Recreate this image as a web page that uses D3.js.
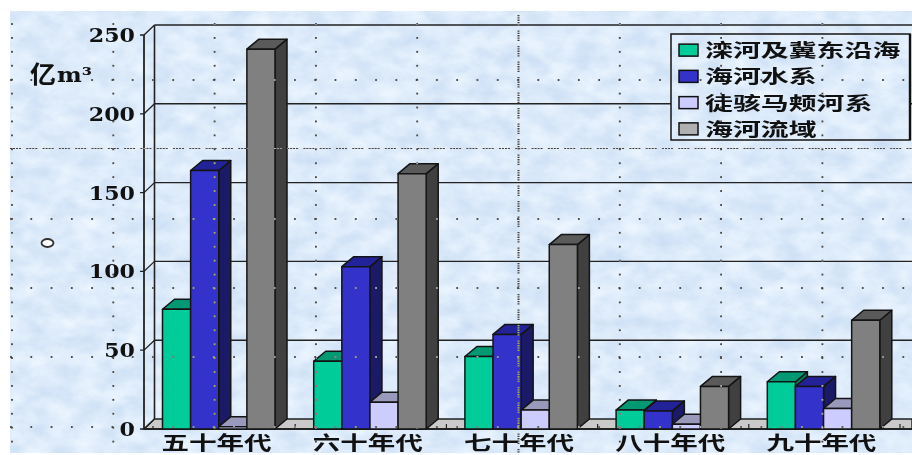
<!DOCTYPE html>
<html>
<head>
<meta charset="utf-8">
<script src="https://cdn.jsdelivr.net/npm/d3@7/dist/d3.min.js"></script>
<style>
html,body{margin:0;padding:0;background:#fff;overflow:hidden}
svg{display:block}
</style>
</head>
<body>
<svg id="chart" width="912" height="455"></svg>
<script>
// 海河流域各年代水资源量(亿m³)
const decades = ["五十年代", "六十年代", "七十年代", "八十年代", "九十年代"];
const seriesNames = ["滦河及冀东沿海", "海河水系", "徒骇马颊河系", "海河流域"];
const luanhe = [76, 43, 46, 12, 30];
const haihe = [164, 103, 60, 11.5, 27];
const tuhai = [1.5, 17, 12, 3, 13];
const basin = [241, 162, 117, 27, 69];
const yTicks = [0, 50, 100, 150, 200, 250];
const unitLabel = "亿";
const unitSuffix = "m³";

const frontColors = ["#00cc99", "#3333cc", "#ccccff", "#808080"];
const topColors = ["#009973", "#222299", "#9999bb", "#5a5a5a"];
const sideColors = ["#007a5c", "#1a1a66", "#77779a", "#404040"];
const swatchColors = ["#00cc99", "#3333cc", "#ccccff", "#b0b0b0"];

const columns = [luanhe, haihe, tuhai, basin];
const svg = d3.select("#chart");
const dx = 10.5, dy = 10;               // oblique depth of the 3D box
const barDx = 12;                       // oblique depth of each column
const W = 912, H = 455;
const plotLeft = 144, plotRight = 900, plotBase = 429, plotTop = 35;

const x = d3.scaleBand().domain(decades).range([plotLeft, plotRight]);
const inner = d3.scaleBand().domain(seriesNames).range([18.5, 131]);
const y = d3.scaleLinear().domain([0, 250]).range([plotBase, plotTop]);

// mottled paper backdrop
const defs = svg.append("defs");
const f = defs.append("filter").attr("id", "paper")
  .attr("filterUnits", "userSpaceOnUse")
  .attr("x", 0).attr("y", 0).attr("width", W).attr("height", H)
  .attr("color-interpolation-filters", "sRGB");
f.append("feTurbulence").attr("type", "fractalNoise")
  .attr("baseFrequency", "0.04 0.06").attr("numOctaves", 5).attr("seed", 7);
f.append("feColorMatrix").attr("type", "matrix").attr("values",
  "0.17 0 0 0 0.78  0.12 0 0 0 0.86  0.05 0 0 0 0.955  0 0 0 0 1");
defs.append("clipPath").attr("id", "legendClip").append("rect")
  .attr("x", 671).attr("y", 34).attr("width", 239).attr("height", 106);
defs.append("clipPath").attr("id", "paperClip").append("rect")
  .attr("x", 10).attr("y", 11).attr("width", W - 10).attr("height", H - 13);

const drawPaper = g => g.append("g").attr("clip-path", "url(#paperClip)")
  .append("rect")
  .attr("x", 0).attr("y", 0).attr("width", W).attr("height", H)
  .attr("filter", "url(#paper)");
drawPaper(svg.append("g"));

// back wall, floor and gridlines
const wall = svg.append("g").attr("fill", "none").attr("stroke", "#222");
wall.selectAll("line.grid").data(yTicks.slice(1)).join("line")
  .attr("class", "grid")
  .attr("x1", plotLeft + dx).attr("x2", W)
  .attr("y1", d => y(d) - dy).attr("y2", d => y(d) - dy)
  .attr("stroke-width", 1.4);
wall.append("path")
  .attr("d", `M${plotLeft},${plotBase}L${plotLeft + dx},${plotBase - dy}H${W}V${plotBase}Z`)
  .attr("fill", "#cacaca").attr("stroke-width", 1.4);
wall.selectAll("line.floorTick").data(d3.range(1, 6)).join("line")
  .attr("class", "floorTick")
  .attr("x1", i => plotLeft + i * x.step()).attr("x2", i => plotLeft + i * x.step())
  .attr("y1", plotBase - 5).attr("y2", plotBase)
  .attr("stroke-width", 1.2);
wall.append("line").attr("x1", plotLeft + dx).attr("x2", plotLeft + dx)
  .attr("y1", y(250) - dy).attr("y2", plotBase - dy).attr("stroke-width", 1.6);
wall.append("line").attr("x1", plotLeft).attr("x2", plotLeft)
  .attr("y1", y(250)).attr("y2", plotBase).attr("stroke-width", 1.8);
wall.selectAll("path.tick3d").data(yTicks).join("path")
  .attr("class", "tick3d")
  .attr("d", d => `M${plotLeft - 4},${y(d)}H${plotLeft}L${plotLeft + dx},${y(d) - dy}`)
  .attr("stroke-width", 1.3);
wall.append("line").attr("x1", plotLeft).attr("x2", W)
  .attr("y1", plotBase).attr("y2", plotBase).attr("stroke-width", 2);

// legend panel masks the gridline running behind it
drawPaper(svg.append("g").attr("clip-path", "url(#legendClip)"));

// 3D columns, painted left to right so nearer faces overlap
const barW = inner.bandwidth();
const groups = svg.append("g").selectAll("g").data(decades).join("g")
  .attr("transform", d => `translate(${x(d)},0)`);
groups.each(function (dec, di) {
  const g = d3.select(this);
  seriesNames.forEach((name, si) => {
    const value = columns[si][di];
    const x0 = inner(name), x1 = x0 + barW, yt = y(value);
    const b = g.append("g").attr("stroke", "#141414").attr("stroke-width", 1.5)
      .attr("stroke-linejoin", "round");
    b.append("path").attr("fill", sideColors[si])
      .attr("d", `M${x1},${yt}L${x1 + barDx},${yt - dy}V${plotBase - dy}L${x1},${plotBase}Z`);
    b.append("path").attr("fill", topColors[si])
      .attr("d", `M${x0},${yt}L${x0 + barDx},${yt - dy}H${x1 + barDx}L${x1},${yt}Z`);
    b.append("rect").attr("fill", frontColors[si])
      .attr("x", x0).attr("y", yt).attr("width", barW).attr("height", plotBase - yt);
  });
});

// scattered dot lattice, inverted against whatever lies beneath it
const dots = svg.append("g").attr("fill", "#fff").attr("opacity", 0.8)
  .style("mix-blend-mode", "difference");
const colXs = d3.range(0, 9).map(i => 12 + i * 101.3);
const rowYs = [80, 219, 288, 357, 427];
const dotYs = d3.range(0, 31).map(i => 24 + i * 13.92);
const dotSize = 1.8;
colXs.forEach(cx => {
  if (Math.abs(cx - 518.5) < 2) return;
  dots.append("g").selectAll("rect").data(dotYs).join("rect")
    .attr("x", cx - dotSize / 2).attr("y", d => d - dotSize / 2)
    .attr("width", dotSize).attr("height", dotSize);
});
rowYs.forEach(ry => {
  dots.append("g").selectAll("rect").data(d3.range(0, 45).map(i => 11 + i * 20.28)).join("rect")
    .attr("x", d => d - dotSize / 2).attr("y", ry - dotSize / 2)
    .attr("width", dotSize).attr("height", dotSize);
});
dots.append("line").attr("x1", 10).attr("x2", W).attr("y1", 148.5).attr("y2", 148.5)
  .attr("stroke", "#fff").attr("stroke-width", 1)
  .attr("stroke-dasharray", "2 1 2 1 2 1 2 5.3");
dots.append("line").attr("x1", 518.5).attr("x2", 518.5).attr("y1", 15).attr("y2", 453)
  .attr("stroke", "#fff").attr("stroke-width", 2)
  .attr("stroke-dasharray", "1.3 1 1.3 1 1.3 1 1.3 1 1.3 5");

const numFont = "'DejaVu Serif', serif";
const cjkFont = "'Noto Sans CJK SC', sans-serif";

// value axis labels
const axis = svg.append("g").attr("transform", `translate(135,0)`)
  .call(d3.axisLeft(y).tickValues(yTicks).tickSize(0).tickPadding(0));
axis.select(".domain").remove();
axis.selectAll("text")
  .attr("font-family", numFont).attr("font-weight", 700).attr("font-size", 19)
  .attr("fill", "#111").attr("dy", "0.34em")
  .attr("textLength", d => String(d).length * 15.4)
  .attr("lengthAdjust", "spacingAndGlyphs");

// unit label
svg.append("text").attr("x", 30).attr("y", 83)
  .attr("font-family", cjkFont).attr("font-weight", 700).attr("font-size", 24)
  .attr("fill", "#111").attr("textLength", 26).attr("lengthAdjust", "spacingAndGlyphs")
  .text(unitLabel);
svg.append("text").attr("x", 57).attr("y", 82)
  .attr("font-family", numFont).attr("font-weight", 700).attr("font-size", 20)
  .attr("fill", "#111").attr("textLength", 35).attr("lengthAdjust", "spacingAndGlyphs")
  .text(unitSuffix);

// small ring left of the axis
svg.append("ellipse").attr("cx", 47.5).attr("cy", 243).attr("rx", 6).attr("ry", 4)
  .attr("fill", "#fff").attr("stroke", "#333").attr("stroke-width", 1.8);

// decade labels
svg.append("g").selectAll("text").data(decades).join("text")
  .attr("x", d => x(d) + x.bandwidth() / 2 - 3)
  .attr("y", 449.5)
  .attr("text-anchor", "middle")
  .attr("font-family", cjkFont).attr("font-weight", 700).attr("font-size", 19.5)
  .attr("fill", "#111")
  .attr("textLength", 110).attr("lengthAdjust", "spacingAndGlyphs")
  .text(d => d);

// legend
const legend = svg.append("g");
legend.append("rect").attr("x", 671).attr("y", 34).attr("width", 239).attr("height", 106)
  .attr("fill", "none").attr("stroke", "#222").attr("stroke-width", 1.6);
legend.append("line").attr("x1", 910).attr("x2", 910).attr("y1", 34).attr("y2", 140)
  .attr("stroke", "#111").attr("stroke-width", 2.4);
const legendRow = d3.scaleBand().domain(seriesNames).range([37, 142]);
const item = legend.selectAll("g.item").data(seriesNames).join("g")
  .attr("class", "item")
  .attr("transform", d => `translate(0,${legendRow(d) + legendRow.bandwidth() / 2})`);
item.append("rect").attr("x", 679).attr("y", -6).attr("width", 19).attr("height", 12)
  .attr("fill", (d, i) => swatchColors[i]).attr("stroke", "#111").attr("stroke-width", 1.5);
item.append("text").attr("x", 705).attr("y", 7)
  .attr("font-family", cjkFont).attr("font-weight", 700).attr("font-size", 18)
  .attr("fill", "#111")
  .attr("textLength", d => d.length * 27.9).attr("lengthAdjust", "spacingAndGlyphs")
  .text(d => d);
</script>
</body>
</html>
